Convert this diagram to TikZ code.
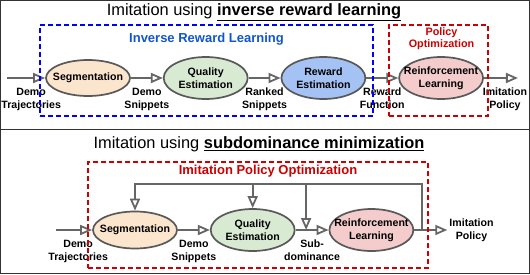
\documentclass[tikz,border=0pt]{standalone}
\usepackage{fontspec}
\setmainfont{Liberation Sans}
\usetikzlibrary{positioning, arrows.meta, shapes, calc}

\definecolor{segfill}{HTML}{FCE5CD}
\definecolor{qefill}{HTML}{D9EAD3}
\definecolor{refill}{HTML}{A4C2F4}
\definecolor{rlfill}{HTML}{F4CCCC}
\definecolor{linegray}{HTML}{666666}
\definecolor{edgegray}{HTML}{595959}
\definecolor{irlblue}{HTML}{0000FF}
\definecolor{irltext}{HTML}{1155CC}
\definecolor{pored}{HTML}{CC0000}

\begin{document}
\begin{tikzpicture}[
    x=1pt, y=1pt, node distance=32pt,
    every node/.style={font=\fontsize{10.6}{12.6}\selectfont\bfseries},
    proc/.style={ellipse, draw=edgegray, line width=1.7pt, inner sep=-10pt, minimum width=84pt, minimum height=42pt, align=center},
    lbl/.style={align=center, inner sep=1pt},
    flow/.style={-{Triangle[open, length=12pt, width=10pt, line width=1.8pt]}, line width=2.4pt, draw=linegray},
    dashbox/.style={dash pattern=on 5pt off 3pt, line width=1.3pt, inner sep=0pt},
    ttl/.style={font=\fontsize{16.4}{19}\selectfont},
    grp/.style={font=\fontsize{13}{15}\selectfont\bfseries, align=center},
    frame/.style={draw=black!80, line width=1pt}
  ]
\useasboundingbox (0,0) rectangle (530,274);

\node[ttl] (ttl1) at (254,262) {Imitation using \underline{\textbf{inverse reward learning}}};

\node[proc, fill=segfill, minimum height=36pt] (seg1) at (88,196) {Segmentation};
\node[proc, fill=qefill, right=of seg1]        (qe1)  {Quality\\Estimation};
\node[proc, fill=refill, right=of qe1]         (re1)  {Reward\\Estimation};
\node[proc, fill=rlfill, right=of re1]         (rl1)  {Reinforcement\\Learning};
\coordinate[left=38pt of seg1]  (in1);
\coordinate[right=34pt of rl1]  (out1);

  \draw[flow] (in1) -- node[lbl, below=8pt, xshift=5pt] (dt1) {Demo\\Trajectories} (seg1);
  \draw[flow] (seg1) -- node[lbl, below=8pt] (ds1) {Demo\\Snippets} (qe1);
  \draw[flow] (qe1) -- node[lbl, below=8pt] (rs1) {Ranked\\Snippets} (re1);
  \draw[flow] (re1) -- node[lbl, below=8pt] (rf1) {Reward\\Function} (rl1);
  \draw[flow] (rl1) -- node[lbl, below=8pt, xshift=4pt] (ip1) {Imitation\\Policy} (out1);

\node[dashbox, draw=irlblue, minimum width=333pt, minimum height=91pt] (irl) at (206.5,203.5) {};
\node[grp, text=irltext] (irltxt) at ([yshift=-15pt]irl.north) {Inverse Reward Learning};
\node[dashbox, draw=pored, minimum width=99pt, minimum height=91pt] (po) at (438.5,203.5) {};
\node[grp, text=pored, font=\fontsize{10.8}{12}\selectfont\bfseries] (potxt) at ([xshift=3pt, yshift=-14pt]po.north) {Policy\\Optimization};

\node[ttl] (ttl2) at (259,130) {Imitation using \underline{\textbf{subdominance minimization}}};

\node[proc, fill=segfill, minimum height=37pt] (seg2) at (135,44) {Segmentation};
\node[proc, fill=qefill, right=of seg2]         (qe2)  {Quality\\Estimation};
\node[proc, fill=rlfill, right=33pt of qe2]     (rl2)  {Reinforcement\\Learning};
\coordinate[left=36pt of seg2]  (in2);
\coordinate[right=33pt of rl2]  (out2);
\coordinate (fb2) at ([xshift=8pt]rl2.east);
\coordinate (mix2) at ($(qe2.east)!0.32!(rl2.west)$);

  \draw[flow] (in2) -- node[lbl, below=8pt, xshift=4pt] (dt2) {Demo\\Trajectories} (seg2);
  \draw[flow] (seg2) -- node[lbl, below=8pt] (ds2) {Demo\\Snippets} (qe2);
  \draw[flow] (qe2) -- node[lbl, below=8pt] (sd2) {Sub-\\dominance} (rl2);
  \draw[flow] (rl2) -- (out2);
  \draw[flow] (fb2) -- ++(0,46) coordinate (fbtop) -| (seg2.north);
  \draw[flow] (qe2.north |- fbtop) -- (qe2.north);
  \draw[flow] (mix2 |- fbtop) -- (mix2);
\node[lbl, right=1pt of out2] (ip2) {Imitation\\Policy};

\node[dashbox, draw=pored, minimum width=340pt, minimum height=106pt] (ipo) at (258,59) {};
\node[grp, text=pored] (ipotxt) at ([xshift=10pt, yshift=-10pt]ipo.north) {Imitation Policy Optimization};

\draw[frame] (0.5,0.5) rectangle (529.5,273.5);
\draw[frame] (0,145) -- (530,145);
\end{tikzpicture}
\end{document}
